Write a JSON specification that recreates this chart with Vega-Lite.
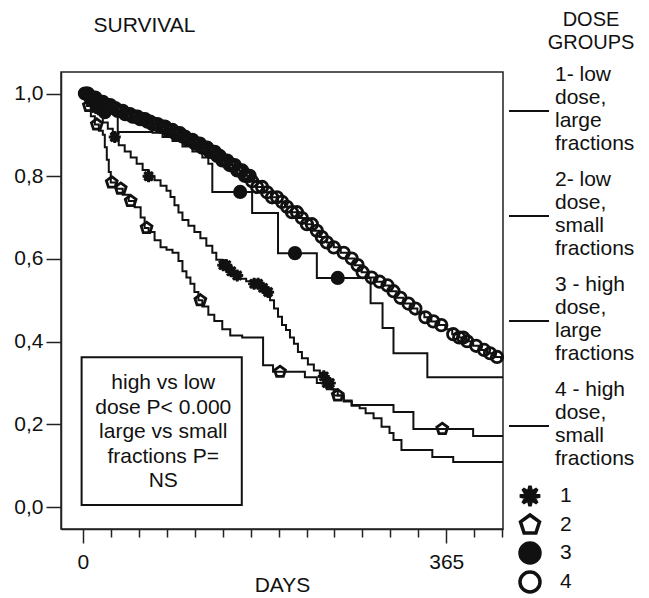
{
  "$schema": "https://vega.github.io/schema/vega-lite/v6.json",
  "width": 442,
  "height": 457,
  "autosize": {"type": "none"},
  "padding": {"left": 61, "top": 72, "right": 146, "bottom": 69},
  "background": "white",
  "config": {
    "font": "Liberation Sans",
    "view": {"stroke": "#222", "strokeWidth": 1.5},
    "axis": {"labelFont": "Liberation Sans", "titleFont": "Liberation Sans", "labelColor": "#111", "titleColor": "#111", "domainColor": "#222", "tickColor": "#222", "domainWidth": 1.5, "tickWidth": 1.5, "grid": false, "labelOverlap": false},
    "legend": {"padding": 0, "labelFont": "Liberation Sans", "titleFont": "Liberation Sans"}
  },
  "datasets": {
    "curves": [
      {"group":"1","day":0,"surv":1.0},{"group":"1","day":5,"surv":0.985},{"group":"1","day":10,"surv":0.965},{"group":"1","day":15,"surv":0.95},{"group":"1","day":20,"surv":0.93},{"group":"1","day":25,"surv":0.915},{"group":"1","day":30,"surv":0.895},{"group":"1","day":36,"surv":0.875},{"group":"1","day":42,"surv":0.86},{"group":"1","day":48,"surv":0.845},{"group":"1","day":54,"surv":0.83},{"group":"1","day":60,"surv":0.815},{"group":"1","day":66,"surv":0.8},{"group":"1","day":72,"surv":0.79},{"group":"1","day":78,"surv":0.777},{"group":"1","day":84,"surv":0.765},{"group":"1","day":88,"surv":0.75},{"group":"1","day":92,"surv":0.73},{"group":"1","day":96,"surv":0.712},{"group":"1","day":100,"surv":0.694},{"group":"1","day":106,"surv":0.68},{"group":"1","day":112,"surv":0.665},{"group":"1","day":118,"surv":0.65},{"group":"1","day":124,"surv":0.632},{"group":"1","day":130,"surv":0.615},{"group":"1","day":134,"surv":0.598},{"group":"1","day":140,"surv":0.585},{"group":"1","day":146,"surv":0.57},{"group":"1","day":152,"surv":0.56},{"group":"1","day":158,"surv":0.552},{"group":"1","day":164,"surv":0.546},{"group":"1","day":170,"surv":0.54},{"group":"1","day":178,"surv":0.53},{"group":"1","day":184,"surv":0.52},{"group":"1","day":188,"surv":0.5},{"group":"1","day":192,"surv":0.48},{"group":"1","day":196,"surv":0.46},{"group":"1","day":200,"surv":0.44},{"group":"1","day":204,"surv":0.428},{"group":"1","day":208,"surv":0.41},{"group":"1","day":212,"surv":0.395},{"group":"1","day":216,"surv":0.375},{"group":"1","day":220,"surv":0.36},{"group":"1","day":226,"surv":0.345},{"group":"1","day":232,"surv":0.33},{"group":"1","day":238,"surv":0.316},{"group":"1","day":244,"surv":0.3},{"group":"1","day":250,"surv":0.285},{"group":"1","day":256,"surv":0.27},{"group":"1","day":262,"surv":0.255},{"group":"1","day":270,"surv":0.245},{"group":"1","day":278,"surv":0.239},{"group":"1","day":284,"surv":0.227},{"group":"1","day":292,"surv":0.215},{"group":"1","day":300,"surv":0.194},{"group":"1","day":308,"surv":0.179},{"group":"1","day":312,"surv":0.162},{"group":"1","day":320,"surv":0.138},{"group":"1","day":351,"surv":0.121},{"group":"1","day":372,"surv":0.109},{"group":"1","day":422,"surv":0.109},
      {"group":"2","day":0,"surv":1.0},{"group":"2","day":4,"surv":0.97},{"group":"2","day":8,"surv":0.945},{"group":"2","day":12,"surv":0.925},{"group":"2","day":16,"surv":0.91},{"group":"2","day":20,"surv":0.9},{"group":"2","day":22,"surv":0.87},{"group":"2","day":24,"surv":0.84},{"group":"2","day":26,"surv":0.81},{"group":"2","day":28,"surv":0.785},{"group":"2","day":34,"surv":0.77},{"group":"2","day":40,"surv":0.755},{"group":"2","day":46,"surv":0.74},{"group":"2","day":52,"surv":0.725},{"group":"2","day":58,"surv":0.7},{"group":"2","day":62,"surv":0.675},{"group":"2","day":66,"surv":0.665},{"group":"2","day":72,"surv":0.645},{"group":"2","day":78,"surv":0.628},{"group":"2","day":84,"surv":0.622},{"group":"2","day":90,"surv":0.615},{"group":"2","day":96,"surv":0.595},{"group":"2","day":100,"surv":0.57},{"group":"2","day":104,"surv":0.555},{"group":"2","day":108,"surv":0.54},{"group":"2","day":112,"surv":0.52},{"group":"2","day":116,"surv":0.5},{"group":"2","day":120,"surv":0.485},{"group":"2","day":126,"surv":0.465},{"group":"2","day":132,"surv":0.45},{"group":"2","day":140,"surv":0.43},{"group":"2","day":148,"surv":0.415},{"group":"2","day":160,"surv":0.41},{"group":"2","day":181,"surv":0.343},{"group":"2","day":191,"surv":0.327},{"group":"2","day":223,"surv":0.314},{"group":"2","day":235,"surv":0.3},{"group":"2","day":245,"surv":0.285},{"group":"2","day":252,"surv":0.27},{"group":"2","day":262,"surv":0.258},{"group":"2","day":270,"surv":0.247},{"group":"2","day":312,"surv":0.23},{"group":"2","day":332,"surv":0.189},{"group":"2","day":392,"surv":0.172},{"group":"2","day":422,"surv":0.172},
      {"group":"3","day":0,"surv":1.0},{"group":"3","day":10,"surv":0.98},{"group":"3","day":20,"surv":0.955},{"group":"3","day":35,"surv":0.907},{"group":"3","day":70,"surv":0.905},{"group":"3","day":80,"surv":0.895},{"group":"3","day":90,"surv":0.885},{"group":"3","day":100,"surv":0.872},{"group":"3","day":110,"surv":0.86},{"group":"3","day":120,"surv":0.845},{"group":"3","day":126,"surv":0.83},{"group":"3","day":130,"surv":0.762},{"group":"3","day":170,"surv":0.711},{"group":"3","day":196,"surv":0.614},{"group":"3","day":235,"surv":0.554},{"group":"3","day":289,"surv":0.493},{"group":"3","day":301,"surv":0.433},{"group":"3","day":312,"surv":0.372},{"group":"3","day":346,"surv":0.314},{"group":"3","day":422,"surv":0.314},
      {"group":"4","day":0,"surv":1.0},{"group":"4","day":7,"surv":0.99},{"group":"4","day":14,"surv":0.98},{"group":"4","day":21,"surv":0.972},{"group":"4","day":28,"surv":0.965},{"group":"4","day":35,"surv":0.958},{"group":"4","day":42,"surv":0.95},{"group":"4","day":49,"surv":0.944},{"group":"4","day":56,"surv":0.938},{"group":"4","day":63,"surv":0.932},{"group":"4","day":70,"surv":0.926},{"group":"4","day":77,"surv":0.92},{"group":"4","day":84,"surv":0.912},{"group":"4","day":91,"surv":0.904},{"group":"4","day":98,"surv":0.896},{"group":"4","day":105,"surv":0.888},{"group":"4","day":112,"surv":0.879},{"group":"4","day":119,"surv":0.869},{"group":"4","day":126,"surv":0.859},{"group":"4","day":133,"surv":0.849},{"group":"4","day":140,"surv":0.838},{"group":"4","day":147,"surv":0.827},{"group":"4","day":154,"surv":0.814},{"group":"4","day":161,"surv":0.801},{"group":"4","day":168,"surv":0.788},{"group":"4","day":175,"surv":0.774},{"group":"4","day":182,"surv":0.761},{"group":"4","day":189,"surv":0.749},{"group":"4","day":196,"surv":0.738},{"group":"4","day":203,"surv":0.726},{"group":"4","day":210,"surv":0.713},{"group":"4","day":217,"surv":0.699},{"group":"4","day":224,"surv":0.684},{"group":"4","day":231,"surv":0.668},{"group":"4","day":238,"surv":0.653},{"group":"4","day":245,"surv":0.64},{"group":"4","day":252,"surv":0.628},{"group":"4","day":259,"surv":0.615},{"group":"4","day":266,"surv":0.601},{"group":"4","day":273,"surv":0.585},{"group":"4","day":280,"surv":0.568},{"group":"4","day":287,"surv":0.555},{"group":"4","day":294,"surv":0.545},{"group":"4","day":301,"surv":0.536},{"group":"4","day":308,"surv":0.522},{"group":"4","day":315,"surv":0.506},{"group":"4","day":322,"surv":0.492},{"group":"4","day":329,"surv":0.48},{"group":"4","day":336,"surv":0.47},{"group":"4","day":343,"surv":0.459},{"group":"4","day":350,"surv":0.449},{"group":"4","day":357,"surv":0.44},{"group":"4","day":364,"surv":0.43},{"group":"4","day":371,"surv":0.418},{"group":"4","day":378,"surv":0.41},{"group":"4","day":385,"surv":0.401},{"group":"4","day":392,"surv":0.39},{"group":"4","day":399,"surv":0.38},{"group":"4","day":406,"surv":0.372},{"group":"4","day":413,"surv":0.363},{"group":"4","day":420,"surv":0.357}
    ],
    "censors": [
      {"marker":"1","day":7,"surv":0.985},{"marker":"1","day":13,"surv":0.965},{"marker":"1","day":32,"surv":0.895},{"marker":"1","day":66,"surv":0.8},{"marker":"1","day":141,"surv":0.585},{"marker":"1","day":144,"surv":0.585},{"marker":"1","day":149,"surv":0.57},{"marker":"1","day":155,"surv":0.56},{"marker":"1","day":172,"surv":0.54},{"marker":"1","day":176,"surv":0.54},{"marker":"1","day":181,"surv":0.53},{"marker":"1","day":186,"surv":0.52},{"marker":"1","day":242,"surv":0.316},{"marker":"1","day":245,"surv":0.3},{"marker":"1","day":248,"surv":0.3},
      {"marker":"2","day":6,"surv":0.97},{"marker":"2","day":14,"surv":0.925},{"marker":"2","day":29,"surv":0.785},{"marker":"2","day":38,"surv":0.77},{"marker":"2","day":48,"surv":0.74},{"marker":"2","day":64,"surv":0.675},{"marker":"2","day":118,"surv":0.5},{"marker":"2","day":198,"surv":0.327},{"marker":"2","day":256,"surv":0.27},{"marker":"2","day":361,"surv":0.189},
      {"marker":"3","day":4,"surv":1.0},{"marker":"3","day":12,"surv":0.98},{"marker":"3","day":22,"surv":0.955},{"marker":"3","day":158,"surv":0.762},{"marker":"3","day":213,"surv":0.614},{"marker":"3","day":256,"surv":0.554},
      {"marker":"4","day":2,"surv":1.0},{"marker":"4","day":5,"surv":1.0},{"marker":"4","day":7.5,"surv":0.99},{"marker":"4","day":10,"surv":0.99},{"marker":"4","day":12.5,"surv":0.99},{"marker":"4","day":15,"surv":0.98},{"marker":"4","day":17.5,"surv":0.98},{"marker":"4","day":20,"surv":0.98},{"marker":"4","day":22.5,"surv":0.972},{"marker":"4","day":25,"surv":0.972},{"marker":"4","day":27.5,"surv":0.972},{"marker":"4","day":30,"surv":0.965},{"marker":"4","day":32.5,"surv":0.965},{"marker":"4","day":35,"surv":0.958},{"marker":"4","day":37.5,"surv":0.958},{"marker":"4","day":40,"surv":0.958},{"marker":"4","day":42.5,"surv":0.95},{"marker":"4","day":45,"surv":0.95},{"marker":"4","day":47.5,"surv":0.95},{"marker":"4","day":50,"surv":0.944},{"marker":"4","day":52.5,"surv":0.944},{"marker":"4","day":55,"surv":0.944},{"marker":"4","day":57.5,"surv":0.938},{"marker":"4","day":60,"surv":0.938},{"marker":"4","day":62.5,"surv":0.938},{"marker":"4","day":65,"surv":0.932},{"marker":"4","day":67.5,"surv":0.932},{"marker":"4","day":70,"surv":0.926},{"marker":"4","day":72.5,"surv":0.926},{"marker":"4","day":75,"surv":0.926},{"marker":"4","day":77.5,"surv":0.92},{"marker":"4","day":80,"surv":0.92},{"marker":"4","day":82.5,"surv":0.92},{"marker":"4","day":85,"surv":0.912},{"marker":"4","day":87.5,"surv":0.912},{"marker":"4","day":90,"surv":0.912},{"marker":"4","day":92.5,"surv":0.904},{"marker":"4","day":95,"surv":0.904},{"marker":"4","day":97.5,"surv":0.904},{"marker":"4","day":100,"surv":0.896},{"marker":"4","day":102.5,"surv":0.896},{"marker":"4","day":105,"surv":0.888},{"marker":"4","day":107.5,"surv":0.888},{"marker":"4","day":110,"surv":0.888},{"marker":"4","day":112.5,"surv":0.879},{"marker":"4","day":115,"surv":0.879},{"marker":"4","day":117.5,"surv":0.879},{"marker":"4","day":120,"surv":0.869},{"marker":"4","day":122.5,"surv":0.869},{"marker":"4","day":125,"surv":0.869},{"marker":"4","day":127.5,"surv":0.859},{"marker":"4","day":130,"surv":0.859},{"marker":"4","day":132.5,"surv":0.859},{"marker":"4","day":135,"surv":0.849},{"marker":"4","day":137.5,"surv":0.849},{"marker":"4","day":140,"surv":0.838},{"marker":"4","day":142.5,"surv":0.838},{"marker":"4","day":145,"surv":0.838},{"marker":"4","day":147.5,"surv":0.827},{"marker":"4","day":150,"surv":0.827},{"marker":"4","day":152.5,"surv":0.827},{"marker":"4","day":155,"surv":0.814},{"marker":"4","day":157.5,"surv":0.814},{"marker":"4","day":160,"surv":0.814},{"marker":"4","day":162.5,"surv":0.801},{"marker":"4","day":165,"surv":0.801},{"marker":"4","day":167.5,"surv":0.801},{"marker":"4","day":170,"surv":0.788},{"marker":"4","day":175,"surv":0.774},{"marker":"4","day":180,"surv":0.774},{"marker":"4","day":185,"surv":0.761},{"marker":"4","day":190,"surv":0.749},{"marker":"4","day":195,"surv":0.749},{"marker":"4","day":200,"surv":0.738},{"marker":"4","day":205,"surv":0.726},{"marker":"4","day":210,"surv":0.713},{"marker":"4","day":215,"surv":0.713},{"marker":"4","day":220,"surv":0.699},{"marker":"4","day":225,"surv":0.684},{"marker":"4","day":230,"surv":0.684},{"marker":"4","day":235,"surv":0.668},{"marker":"4","day":240,"surv":0.653},{"marker":"4","day":245,"surv":0.64},{"marker":"4","day":252,"surv":0.628},{"marker":"4","day":262,"surv":0.615},{"marker":"4","day":270,"surv":0.601},{"marker":"4","day":276,"surv":0.585},{"marker":"4","day":281,"surv":0.568},{"marker":"4","day":290,"surv":0.555},{"marker":"4","day":298,"surv":0.545},{"marker":"4","day":306,"surv":0.536},{"marker":"4","day":312,"surv":0.522},{"marker":"4","day":319,"surv":0.506},{"marker":"4","day":327,"surv":0.492},{"marker":"4","day":334,"surv":0.48},{"marker":"4","day":344,"surv":0.459},{"marker":"4","day":352,"surv":0.449},{"marker":"4","day":360,"surv":0.44},{"marker":"4","day":372,"surv":0.418},{"marker":"4","day":378,"surv":0.41},{"marker":"4","day":382,"surv":0.41},{"marker":"4","day":386,"surv":0.401},{"marker":"4","day":395,"surv":0.39},{"marker":"4","day":403,"surv":0.38},{"marker":"4","day":409,"surv":0.372},{"marker":"4","day":416,"surv":0.363}
    ]
  },
  "layer": [
    {
      "data": {"name": "curves"},
      "mark": {"type": "line", "interpolate": "step-after", "color": "#111"},
      "encoding": {
        "x": {
          "field": "day", "type": "quantitative",
          "scale": {"domain": [-22, 422], "nice": false, "zero": false},
          "axis": {
            "title": "DAYS", "titleFontSize": 21, "titleFontWeight": "normal", "titlePadding": 2,
            "values": [0, 28.077, 56.154, 84.231, 112.308, 140.385, 168.462, 196.538, 224.615, 252.692, 280.769, 308.846, 336.923, 365, 393.077, 421.154],
            "labelExpr": "datum.value == 0 || datum.value == 365 ? datum.label : ''",
            "tickSize": {"condition": {"test": "datum.value == 0 || datum.value == 365", "value": 14}, "value": 8},
            "labelFontSize": 21, "labelPadding": 8, "labelFlush": false, "labelOverlap": false
          }
        },
        "y": {
          "field": "surv", "type": "quantitative",
          "scale": {"domain": [-0.053, 1.052], "nice": false, "zero": false},
          "axis": {
            "title": "SURVIVAL", "titleAngle": 0, "titleX": 32, "titleY": -47, "titleAlign": "left", "titleBaseline": "middle",
            "titleFontSize": 21, "titleFontWeight": "normal",
            "values": [0, 0.2, 0.4, 0.6, 0.8, 1.0],
            "labelExpr": "replace(format(datum.value, '.1f'), '.', ',')",
            "tickSize": 15, "labelPadding": 3, "labelFontSize": 21, "labelOverlap": false
          }
        },
        "strokeWidth": {
          "field": "group", "type": "ordinal",
          "scale": {"domain": ["1", "2", "3", "4"], "range": [2, 2, 2, 4]},
          "legend": {
            "orient": "none", "legendX": 487, "legendY": -62,
            "title": ["DOSE", "GROUPS"], "titleFontSize": 20, "titleFontWeight": "normal", "titleColor": "#111",
            "titleAlign": "center", "titleAnchor": "middle", "titleLineHeight": 23, "titlePadding": 1,
            "symbolType": "M-1,1.8L1,1.8", "symbolSize": 1600, "symbolStrokeColor": "#111", "symbolOffset": -40,
            "labelFontSize": 21, "labelColor": "#111", "labelOffset": 5, "labelLimit": 0, "rowPadding": 5,
            "labelExpr": "datum.label == '1' ? ['1- low','dose,','large','fractions'] : datum.label == '2' ? ['2- low','dose,','small','fractions'] : datum.label == '3' ? ['3 - high','dose,','large','fractions'] : ['4 - high','dose,','small','fractions']"
          }
        }
      }
    },
    {
      "data": {"name": "censors"},
      "mark": {"type": "point", "filled": true, "strokeWidth": 2.8, "opacity": 1, "size": 130},
      "encoding": {
        "x": {
          "field": "day", "type": "quantitative",
          "scale": {"domain": [-22, 422], "nice": false, "zero": false},
          "axis": {
            "title": "DAYS", "titleFontSize": 21, "titleFontWeight": "normal", "titlePadding": 2,
            "values": [0, 28.077, 56.154, 84.231, 112.308, 140.385, 168.462, 196.538, 224.615, 252.692, 280.769, 308.846, 336.923, 365, 393.077, 421.154],
            "labelExpr": "datum.value == 0 || datum.value == 365 ? datum.label : ''",
            "tickSize": {"condition": {"test": "datum.value == 0 || datum.value == 365", "value": 14}, "value": 8},
            "labelFontSize": 21, "labelPadding": 8, "labelFlush": false, "labelOverlap": false
          }
        },
        "y": {
          "field": "surv", "type": "quantitative",
          "scale": {"domain": [-0.053, 1.052], "nice": false, "zero": false},
          "axis": {
            "title": "SURVIVAL", "titleAngle": 0, "titleX": 32, "titleY": -47, "titleAlign": "left", "titleBaseline": "middle",
            "titleFontSize": 21, "titleFontWeight": "normal",
            "values": [0, 0.2, 0.4, 0.6, 0.8, 1.0],
            "labelExpr": "replace(format(datum.value, '.1f'), '.', ',')",
            "tickSize": 15, "labelPadding": 3, "labelFontSize": 21, "labelOverlap": false
          }
        },
        "shape": {
          "field": "marker", "type": "nominal",
          "scale": {"range": ["M0,-1L0.153,-0.37L0.707,-0.707L0.37,-0.153L1,0L0.37,0.153L0.707,0.707L0.153,0.37L0,1L-0.153,0.37L-0.707,0.707L-0.37,0.153L-1,0L-0.37,-0.153L-0.707,-0.707L-0.153,-0.37Z", "M0,-1L0.951,-0.309L0.588,0.809L-0.588,0.809L-0.951,-0.309Z", "circle", "circle"]},
          "legend": {"orient": "none", "legendX": 457, "legendY": 412, "title": null, "symbolSize": 400, "symbolStrokeWidth": 3.5, "labelFontSize": 21, "labelColor": "#111", "labelOffset": 18, "rowPadding": -5}
        },
        "fill": {
          "field": "marker", "type": "nominal",
          "scale": {"range": ["#111", "transparent", "#111", "transparent"]},
          "legend": {"orient": "none", "legendX": 457, "legendY": 412, "title": null, "symbolSize": 400, "symbolStrokeWidth": 3.5, "labelFontSize": 21, "labelColor": "#111", "labelOffset": 18, "rowPadding": -5}
        },
        "stroke": {
          "field": "marker", "type": "nominal",
          "scale": {"range": ["#111", "#111", "#111", "#111"]},
          "legend": {"orient": "none", "legendX": 457, "legendY": 412, "title": null, "symbolSize": 400, "symbolStrokeWidth": 3.5, "labelFontSize": 21, "labelColor": "#111", "labelOffset": 18, "rowPadding": -5}
        }
      }
    },
    {
      "data": {"values": [{}]},
      "mark": {"type": "rect", "fill": "white", "stroke": "#111", "strokeWidth": 2},
      "encoding": {
        "x": {
          "datum": -1.3, "type": "quantitative",
          "axis": {
            "title": "DAYS", "titleFontSize": 21, "titleFontWeight": "normal", "titlePadding": 2,
            "values": [0, 28.077, 56.154, 84.231, 112.308, 140.385, 168.462, 196.538, 224.615, 252.692, 280.769, 308.846, 336.923, 365, 393.077, 421.154],
            "labelExpr": "datum.value == 0 || datum.value == 365 ? datum.label : ''",
            "tickSize": {"condition": {"test": "datum.value == 0 || datum.value == 365", "value": 14}, "value": 8},
            "labelFontSize": 21, "labelPadding": 8, "labelFlush": false, "labelOverlap": false
          }
        },
        "x2": {"datum": 159.6},
        "y": {
          "datum": 0.362, "type": "quantitative",
          "axis": {
            "title": "SURVIVAL", "titleAngle": 0, "titleX": 32, "titleY": -47, "titleAlign": "left", "titleBaseline": "middle",
            "titleFontSize": 21, "titleFontWeight": "normal",
            "values": [0, 0.2, 0.4, 0.6, 0.8, 1.0],
            "labelExpr": "replace(format(datum.value, '.1f'), '.', ',')",
            "tickSize": 15, "labelPadding": 3, "labelFontSize": 21, "labelOverlap": false
          }
        },
        "y2": {"datum": 0.005}
      }
    },
    {
      "data": {"values": [{}]},
      "mark": {"type": "text", "text": ["high vs low", "dose P< 0.000", "large vs small", "fractions P=", "NS"], "fontSize": 21, "lineHeight": 24.5, "align": "center", "baseline": "middle", "font": "Liberation Sans", "color": "#111"},
      "encoding": {
        "x": {
          "datum": 80.7, "type": "quantitative",
          "axis": {
            "title": "DAYS", "titleFontSize": 21, "titleFontWeight": "normal", "titlePadding": 2,
            "values": [0, 28.077, 56.154, 84.231, 112.308, 140.385, 168.462, 196.538, 224.615, 252.692, 280.769, 308.846, 336.923, 365, 393.077, 421.154],
            "labelExpr": "datum.value == 0 || datum.value == 365 ? datum.label : ''",
            "tickSize": {"condition": {"test": "datum.value == 0 || datum.value == 365", "value": 14}, "value": 8},
            "labelFontSize": 21, "labelPadding": 8, "labelFlush": false, "labelOverlap": false
          }
        },
        "y": {
          "datum": 0.3, "type": "quantitative",
          "axis": {
            "title": "SURVIVAL", "titleAngle": 0, "titleX": 32, "titleY": -47, "titleAlign": "left", "titleBaseline": "middle",
            "titleFontSize": 21, "titleFontWeight": "normal",
            "values": [0, 0.2, 0.4, 0.6, 0.8, 1.0],
            "labelExpr": "replace(format(datum.value, '.1f'), '.', ',')",
            "tickSize": 15, "labelPadding": 3, "labelFontSize": 21, "labelOverlap": false
          }
        }
      }
    }
  ]
}
